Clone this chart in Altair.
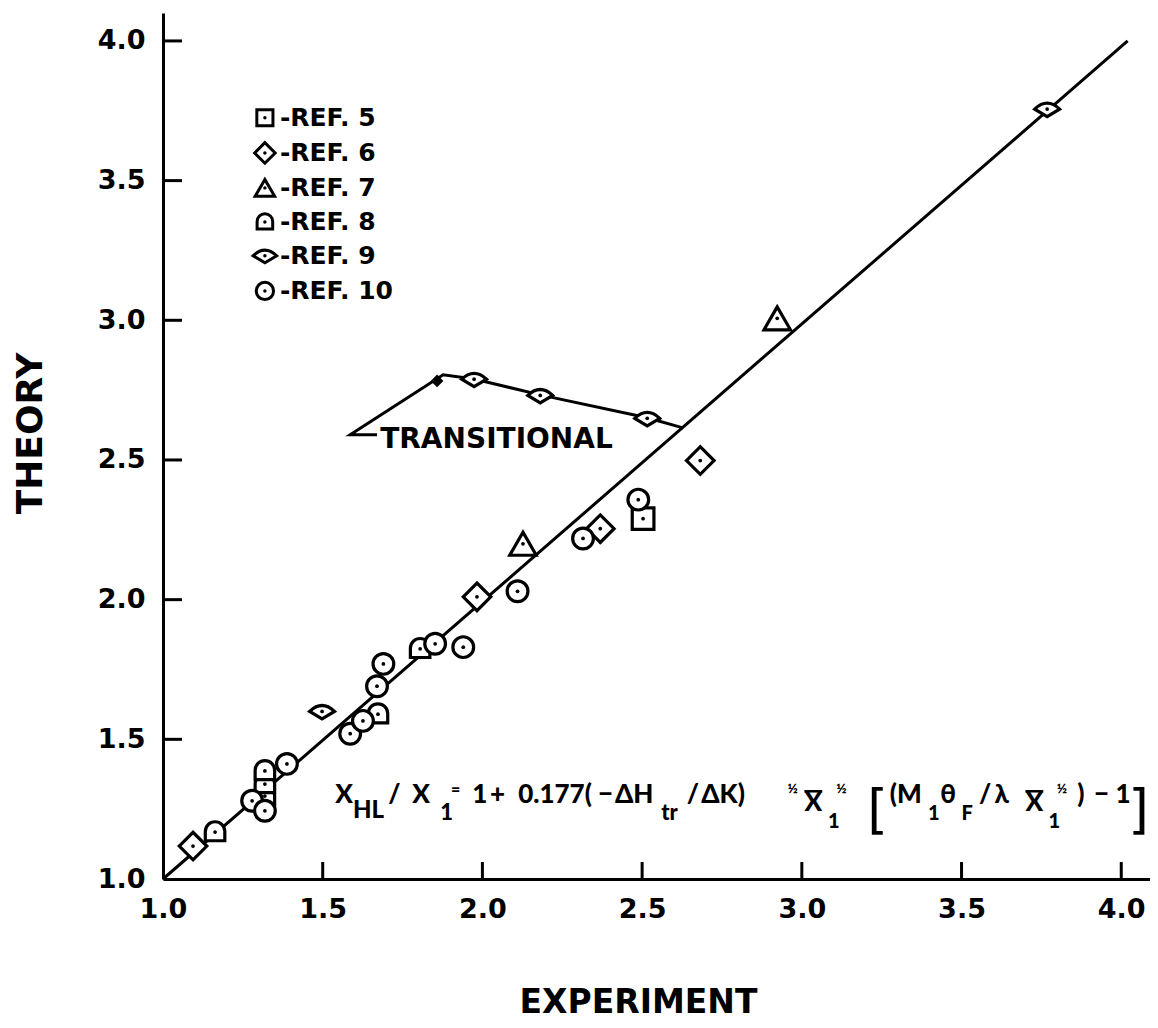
import altair as alt
import pandas as pd

# ---------------- data ----------------
refs = ["-REF. 5", "-REF. 6", "-REF. 7", "-REF. 8", "-REF. 9", "-REF. 10"]

ref5_x = [2.503]
ref5_y = [2.290]
ref6_x = [1.094, 1.983, 2.369, 2.682]
ref6_y = [1.118, 2.010, 2.254, 2.498]
ref7_x = [2.127, 2.923]
ref7_y = [2.200, 3.007]
ref8_x = [1.163, 1.319, 1.319, 1.319, 1.673, 1.805]
ref8_y = [1.168, 1.297, 1.340, 1.387, 1.590, 1.824]
ref9_x = [1.498, 1.974, 2.181, 2.516, 3.768]
ref9_y = [1.600, 2.789, 2.731, 2.649, 3.756]
ref10_x = [1.279, 1.319, 1.388, 1.586, 1.626, 1.670, 1.690, 1.852, 1.940, 2.110, 2.315, 2.488]
ref10_y = [1.280, 1.244, 1.412, 1.520, 1.566, 1.690, 1.770, 1.842, 1.830, 2.030, 2.219, 2.358]

# theory = experiment reference line
line_x = [1.0, 4.02]
line_y = [1.0, 4.00]

# "TRANSITIONAL" leader line
trans_x = [1.670, 1.586, 1.877, 1.974, 2.181, 2.516, 2.628]
trans_y = [2.590, 2.590, 2.805, 2.790, 2.733, 2.651, 2.615]
trans_dot_x = [1.858]
trans_dot_y = [2.783]

x_ticks = [1.0, 1.5, 2.0, 2.5, 3.0, 3.5, 4.0]
y_ticks = [1.0, 1.5, 2.0, 2.5, 3.0, 3.5, 4.0]

# key (legend) placement, in data units
key_sym_x = 1.319
key_text_x = 1.366
key_y = [3.725, 3.599, 3.474, 3.352, 3.231, 3.105]

# formula annotation pieces (text, x, y in data units, font size)
f_text = ["X", "HL", "/", "X", "1", "=", "1", "+", "0.177(", "\u2212", "\u0394H", "tr", "/",
          "\u0394K)", "\u00bd", "X", "1", "\u00bd", "(M", "1", "\u03b8", "F", "/", "\u03bb",
          "X", "1", "\u00bd", ")", "\u2212", "1"]
f_x = [1.539, 1.595, 1.705, 1.780, 1.868, 1.902, 1.968, 2.024, 2.112, 2.362, 2.415, 2.560, 2.640,
       2.685, 2.955, 3.008, 3.082, 3.108, 3.275, 3.395, 3.433, 3.500, 3.555, 3.603,
       3.700, 3.772, 3.798, 3.862, 3.915, 3.982]
f_y = [1.272, 1.218, 1.272, 1.272, 1.211, 1.301, 1.272, 1.272, 1.272, 1.272, 1.272, 1.211, 1.272,
       1.272, 1.308, 1.243, 1.183, 1.308, 1.272, 1.211, 1.272, 1.211, 1.272, 1.272,
       1.243, 1.183, 1.308, 1.272, 1.272, 1.272]
f_size = [26, 24, 26, 26, 22, 16, 26, 26, 26, 26, 26, 22, 26,
          26, 14, 26, 20, 14, 26, 20, 26, 20, 26, 26,
          26, 20, 14, 26, 26, 26]

# overbars of the two X-bar symbols
bar_x = [3.008, 3.700]
bar_x2 = [3.064, 3.756]
bar_y = [1.314, 1.314]

bracket_text = ["[", "]"]
bracket_x = [3.205, 4.022]
bracket_y = [1.183, 1.183]

trans_label = ["TRANSITIONAL"]
trans_label_x = [1.680]
trans_label_y = [2.543]

# ---------------- build tables ----------------
ARCH = "M -0.9 0.8 L -0.9 -0.05 A 0.9 0.9 0 0 1 0.9 -0.05 L 0.9 0.8 Z"
EYE = "M -1 0 Q 0 -0.95 1 0 L 0 0.6 Z"
shapes = ["square", "diamond", "triangle-up", ARCH, EYE, "circle"]
sizes = [470, 760, 700, 470, 620, 430]
key_sizes = [260, 420, 380, 300, 560, 300]

series_x = [ref5_x, ref6_x, ref7_x, ref8_x, ref9_x, ref10_x]
series_y = [ref5_y, ref6_y, ref7_y, ref8_y, ref9_y, ref10_y]

rows = []
for r, xs, ys in zip(refs, series_x, series_y):
    for xv, yv in zip(xs, ys):
        rows.append({"exp": xv, "theory": yv, "ref": r})
pts = pd.DataFrame(rows)

key_df = pd.DataFrame({"ref": refs, "ks": [key_sym_x] * len(refs),
                       "kt": [key_text_x] * len(refs), "theory": key_y})

line_df = pd.DataFrame({"exp": line_x, "theory": line_y})
trans_df = pd.DataFrame({"exp": trans_x, "theory": trans_y, "i": list(range(len(trans_x)))})
trans_dot_df = pd.DataFrame({"exp": trans_dot_x, "theory": trans_dot_y})
formula_df = pd.DataFrame({"t": f_text, "exp": f_x, "theory": f_y, "s": f_size})
bar_df = pd.DataFrame({"exp": bar_x, "exp2": bar_x2, "theory": bar_y})
bracket_df = pd.DataFrame({"t": bracket_text, "exp": bracket_x, "theory": bracket_y})
label_df = pd.DataFrame({"t": trans_label, "exp": trans_label_x, "theory": trans_label_y})
xt_df = pd.DataFrame({"v": x_ticks[1:]})
yt_df = pd.DataFrame({"v": y_ticks[1:]})

W, H = 987, 866
FONT = "DejaVu Sans"
FFONT = "Lato, DejaVu Sans"

xscale = alt.Scale(domain=[1.0, 4.09], nice=False, zero=False)
yscale = alt.Scale(domain=[1.0, 4.10], nice=False, zero=False)
shape_scale = alt.Scale(domain=refs, range=shapes)

xaxis = alt.Axis(values=x_ticks, format=".1f", ticks=False, grid=False,
                 domainWidth=3, domainColor="black", labelFlush=False,
                 labelFont=FONT, labelFontSize=27, labelFontWeight="bold",
                 labelColor="black", labelPadding=17,
                 title="EXPERIMENT", titleFont=FONT, titleFontSize=33,
                 titleFontWeight="bold", titleColor="black", titlePadding=64,
                 titleX=475)
yaxis = alt.Axis(values=y_ticks, format=".1f", ticks=False, grid=False,
                 domainWidth=3, domainColor="black", labelFlush=False,
                 labelFont=FONT, labelFontSize=27, labelFontWeight="bold",
                 labelColor="black", labelPadding=18,
                 title="THEORY", titleFont=FONT, titleFontSize=36,
                 titleFontWeight="bold", titleColor="black", titlePadding=48,
                 titleY=420)

X = alt.X("exp:Q", scale=xscale, axis=xaxis)
Y = alt.Y("theory:Q", scale=yscale, axis=yaxis)

diag = alt.Chart(line_df).mark_line(color="black", strokeWidth=3).encode(x=X, y=Y)

trans = alt.Chart(trans_df).mark_line(color="black", strokeWidth=3).encode(
    x="exp:Q", y="theory:Q", order="i:Q")

trans_dot = alt.Chart(trans_dot_df).mark_point(
    shape="diamond", filled=True, color="black", size=160, opacity=1).encode(
    x="exp:Q", y="theory:Q")

layers = []
for r, sz, ksz in zip(refs, sizes, key_sizes):
    layers.append(
        alt.Chart(pts[pts["ref"] == r]).mark_point(
            filled=True, fill="white", stroke="black", strokeWidth=3.2,
            fillOpacity=1, strokeOpacity=1, opacity=1, size=sz).encode(
            x="exp:Q", y="theory:Q",
            shape=alt.Shape("ref:N", scale=shape_scale, legend=None)))
    # key symbol for this series
    layers.append(
        alt.Chart(key_df[key_df["ref"] == r]).mark_point(
            filled=True, fill="white", stroke="black", strokeWidth=3,
            fillOpacity=1, strokeOpacity=1, opacity=1, size=ksz).encode(
            x="ks:Q", y="theory:Q",
            shape=alt.Shape("ref:N", scale=shape_scale, legend=None)))

dots = alt.Chart(pts).mark_point(shape="circle", filled=True, color="black",
                                 size=14, opacity=1).encode(x="exp:Q", y="theory:Q")
key_dots = alt.Chart(key_df).mark_point(shape="circle", filled=True, color="black",
                                        size=12, opacity=1).encode(x="ks:Q", y="theory:Q")
key_text = alt.Chart(key_df).mark_text(
    align="left", baseline="middle", font=FONT, fontWeight="bold", fontSize=25,
    color="black").encode(x="kt:Q", y="theory:Q", text="ref:N")

xticks = alt.Chart(xt_df).mark_rule(color="black", strokeWidth=3).encode(
    x="v:Q", y=alt.datum(1.0), y2=alt.value(H - 17))
yticks = alt.Chart(yt_df).mark_rule(color="black", strokeWidth=3).encode(
    y="v:Q", x=alt.datum(1.0), x2=alt.value(19))

formula = alt.Chart(formula_df).mark_text(
    align="left", baseline="alphabetic", font=FFONT, fontWeight=900,
    color="black").encode(x="exp:Q", y="theory:Q", text="t:N",
                          size=alt.Size("s:Q", scale=None))

bars = alt.Chart(bar_df).mark_rule(color="black", strokeWidth=2.5).encode(
    x="exp:Q", x2="exp2:Q", y="theory:Q")

brackets = alt.Chart(bracket_df).mark_text(
    align="left", baseline="alphabetic", font=FONT, fontWeight="normal",
    fontSize=53, color="black").encode(x="exp:Q", y="theory:Q", text="t:N")

label = alt.Chart(label_df).mark_text(
    align="left", baseline="alphabetic", font=FONT, fontWeight="bold",
    fontSize=28, color="black").encode(x="exp:Q", y="theory:Q", text="t:N")

chart = alt.layer(diag, trans, xticks, yticks, *layers, dots, key_dots, key_text,
                  trans_dot, formula, bars, brackets, label).properties(
    width=W, height=H,
    padding={"left": 155, "top": 5, "right": 0, "bottom": 141},
    autosize=alt.AutoSizeParams(type="none"),
    background="white",
).configure_view(stroke=None)

chart.save("out.html", embed_options={"renderer": "svg", "actions": False})
